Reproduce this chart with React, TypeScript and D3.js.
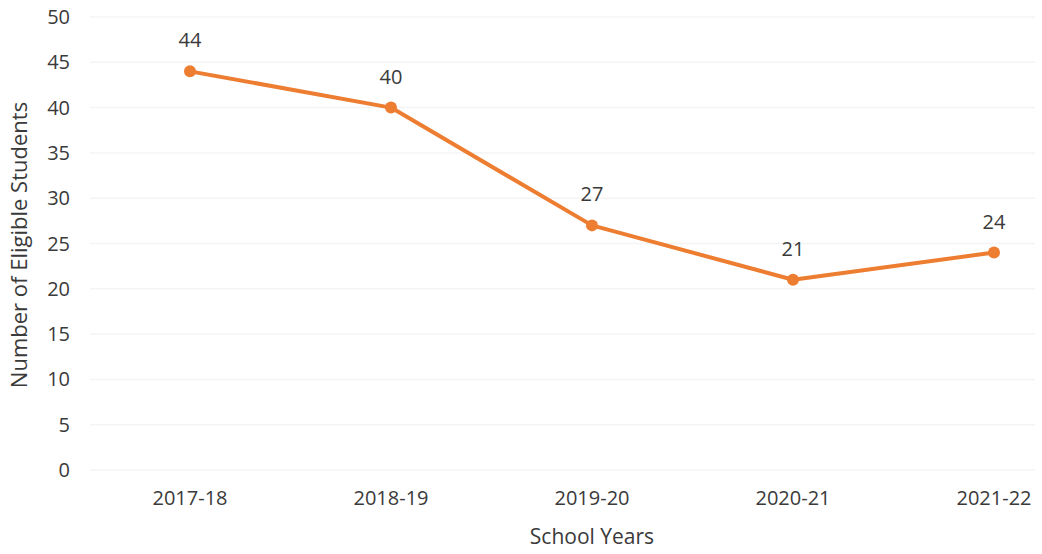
import { useEffect, useRef } from 'react'
import * as d3 from 'd3'

const years = ['2017-18', '2018-19', '2019-20', '2020-21', '2021-22']
const students = [44, 40, 27, 21, 24]
const yTicks = [0, 5, 10, 15, 20, 25, 30, 35, 40, 45, 50]

const W = 1042
const H = 554

export default function App() {
  const ref = useRef<SVGSVGElement>(null)

  useEffect(() => {
    if (!ref.current) return
    const svg = d3.select(ref.current)
    svg.selectAll('*').remove()

    const font = '"Open Sans", "Noto Sans", sans-serif'
    const textColor = '#3a3a3a'
    const orange = '#ED7D31'

    const x = d3.scalePoint<string>().domain(years).range([190, 994])
    const y = d3.scaleLinear().domain([0, 50]).range([470, 17])

    // faint gridlines
    svg.append('g')
      .selectAll('line')
      .data(yTicks)
      .enter()
      .append('line')
      .attr('x1', 90)
      .attr('x2', 1035)
      .attr('y1', d => y(d))
      .attr('y2', d => y(d))
      .attr('stroke', '#f4f4f4')
      .attr('stroke-width', 1.5)

    // y tick labels
    svg.append('g')
      .selectAll('text')
      .data(yTicks)
      .enter()
      .append('text')
      .attr('x', 70)
      .attr('y', d => y(d))
      .attr('dy', '0.35em')
      .attr('text-anchor', 'end')
      .attr('font-family', font)
      .attr('font-size', 20)
      .attr('fill', textColor)
      .text(d => d)

    // x tick labels
    svg.append('g')
      .selectAll('text')
      .data(years)
      .enter()
      .append('text')
      .attr('x', d => x(d)!)
      .attr('y', 505)
      .attr('text-anchor', 'middle')
      .attr('font-family', font)
      .attr('font-size', 20)
      .attr('fill', textColor)
      .text(d => d)

    // axis titles
    svg.append('text')
      .attr('x', 592)
      .attr('y', 544)
      .attr('text-anchor', 'middle')
      .attr('font-family', font)
      .attr('font-size', 21)
      .attr('fill', textColor)
      .text('School Years')

    svg.append('text')
      .attr('transform', 'translate(27,245) rotate(-90)')
      .attr('text-anchor', 'middle')
      .attr('font-family', font)
      .attr('font-size', 22)
      .attr('fill', textColor)
      .text('Number of Eligible Students')

    const data = years.map((yr, i) => ({ yr, v: students[i] }))

    const line = d3.line<{ yr: string; v: number }>()
      .x(d => x(d.yr)!)
      .y(d => y(d.v))

    svg.append('path')
      .datum(data)
      .attr('d', line)
      .attr('fill', 'none')
      .attr('stroke', orange)
      .attr('stroke-width', 4)
      .attr('stroke-linejoin', 'round')
      .attr('stroke-linecap', 'round')

    svg.append('g')
      .selectAll('circle')
      .data(data)
      .enter()
      .append('circle')
      .attr('cx', d => x(d.yr)!)
      .attr('cy', d => y(d.v))
      .attr('r', 6)
      .attr('fill', orange)

    // data labels
    svg.append('g')
      .selectAll('text')
      .data(data)
      .enter()
      .append('text')
      .attr('x', d => x(d.yr)!)
      .attr('y', d => y(d.v) - 24)
      .attr('text-anchor', 'middle')
      .attr('font-family', font)
      .attr('font-size', 20)
      .attr('fill', textColor)
      .text(d => d.v)
  }, [])

  return (
    <div style={{ position: 'absolute', left: 0, top: 0 }}>
      <svg ref={ref} width={W} height={H} style={{ display: 'block', background: '#fff' }} />
    </div>
  )
}
